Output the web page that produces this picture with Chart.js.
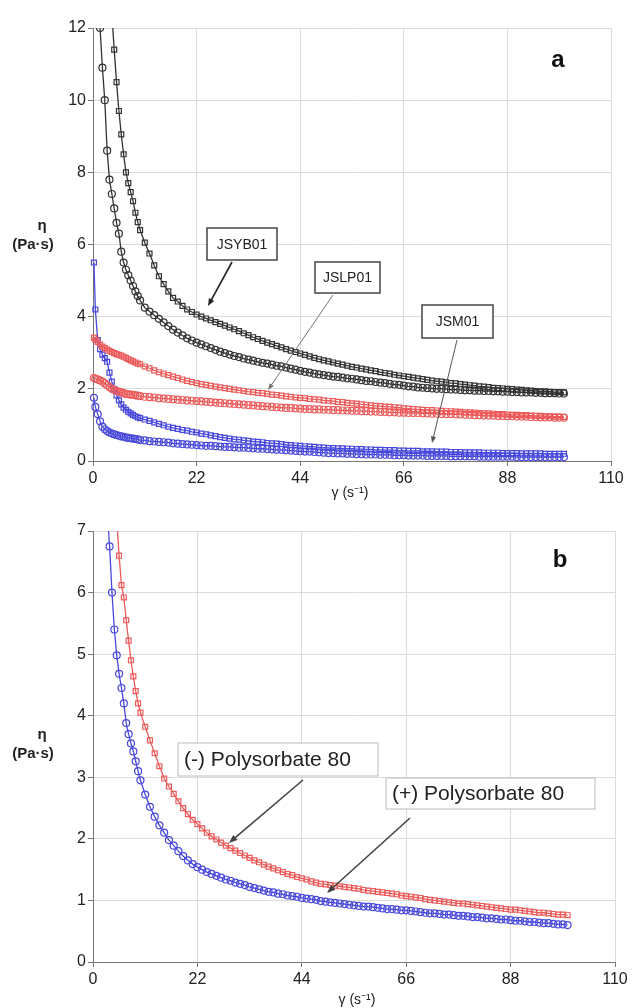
<!DOCTYPE html>
<html>
<head>
<meta charset="utf-8">
<script src="https://cdn.jsdelivr.net/npm/chart.js@4.4.1/dist/chart.umd.min.js"></script>
<style>
  body { margin: 0; background: #fff; }
  canvas { display: block; }
</style>
</head>
<body>
<canvas id="chartA" width="636" height="500"></canvas>
<canvas id="chartB" width="636" height="508"></canvas>
<script>
// shear rate (s-1), shared by every curve
const gamma = [0.2, 0.5, 1, 1.5, 2, 2.5, 3, 3.5, 4, 4.5, 5, 5.5, 6, 6.5, 7, 7.5, 8, 8.5, 9, 9.5, 10,
  11, 12, 13, 14, 15, 16, 17, 18, 19, 20,
  21, 22, 23, 24, 25, 26, 27, 28, 29, 30,
  31, 32, 33, 34, 35, 36, 37, 38, 39, 40,
  41, 42, 43, 44, 45, 46, 47, 48, 49, 50,
  51, 52, 53, 54, 55, 56, 57, 58, 59, 60,
  61, 62, 63, 64, 65, 66, 67, 68, 69, 70,
  71, 72, 73, 74, 75, 76, 77, 78, 79, 80,
  81, 82, 83, 84, 85, 86, 87, 88, 89, 90,
  91, 92, 93, 94, 95, 96, 97, 98, 99, 100];

// panel a - viscosity (Pa.s)
const jsyb01Up = [60, 40, 30, 24, 20, 17.5, 15.5, 13.8, 12.4, 11.4, 10.5, 9.7, 9.05, 8.5, 8.0, 7.7, 7.45, 7.2, 6.88, 6.62, 6.4,
  6.05, 5.75, 5.42, 5.12, 4.9, 4.7, 4.52, 4.42, 4.3, 4.2,
  4.13, 4.06, 4.0, 3.95, 3.9, 3.85, 3.8, 3.75, 3.7, 3.65,
  3.6, 3.54, 3.49, 3.43, 3.38, 3.33, 3.28, 3.24, 3.19, 3.15,
  3.1, 3.06, 3.02, 2.98, 2.94, 2.9, 2.86, 2.82, 2.79, 2.76,
  2.73, 2.7, 2.67, 2.64, 2.61, 2.59, 2.56, 2.54, 2.51, 2.49,
  2.46, 2.44, 2.42, 2.39, 2.37, 2.35, 2.33, 2.31, 2.29, 2.27,
  2.25, 2.23, 2.21, 2.2, 2.18, 2.16, 2.15, 2.13, 2.12, 2.1,
  2.09, 2.07, 2.06, 2.05, 2.03, 2.02, 2.01, 2.0, 1.99, 1.98,
  1.97, 1.96, 1.95, 1.94, 1.93, 1.93, 1.92, 1.91, 1.91, 1.9];
const jsyb01Down = [40, 24, 15, 12, 10.9, 10, 8.6, 7.8, 7.4, 7.0, 6.6, 6.3, 5.8, 5.5, 5.3, 5.15, 5.0, 4.85, 4.7, 4.57, 4.45,
  4.25, 4.14, 4.04, 3.94, 3.84, 3.74, 3.64, 3.56, 3.48, 3.4,
  3.34, 3.28, 3.23, 3.18, 3.13, 3.08, 3.03, 2.99, 2.95, 2.91,
  2.88, 2.84, 2.81, 2.78, 2.75, 2.72, 2.7, 2.67, 2.64, 2.62,
  2.59, 2.56, 2.53, 2.5, 2.47, 2.45, 2.42, 2.4, 2.38, 2.36,
  2.34, 2.33, 2.31, 2.29, 2.28, 2.26, 2.24, 2.22, 2.21, 2.19,
  2.17, 2.16, 2.14, 2.12, 2.11, 2.09, 2.07, 2.06, 2.04, 2.03,
  2.02, 2.01, 2.0, 2.0, 1.99, 1.98, 1.98, 1.97, 1.96, 1.96,
  1.95, 1.95, 1.94, 1.94, 1.93, 1.93, 1.92, 1.92, 1.91, 1.91,
  1.9, 1.9, 1.9, 1.89, 1.89, 1.88, 1.88, 1.88, 1.87, 1.87];
const jslp01Up = [3.42, 3.36, 3.3, 3.23, 3.17, 3.13, 3.09, 3.05, 3.02, 2.99, 2.96, 2.94, 2.92, 2.89, 2.86, 2.82, 2.79, 2.76, 2.73, 2.7, 2.68,
  2.62, 2.57, 2.51, 2.46, 2.42, 2.38, 2.34, 2.3, 2.26, 2.22,
  2.19, 2.16, 2.13, 2.11, 2.08, 2.06, 2.04, 2.02, 2.0, 1.98,
  1.96, 1.94, 1.92, 1.91, 1.89, 1.88, 1.86, 1.84, 1.83, 1.81,
  1.79, 1.78, 1.76, 1.75, 1.74, 1.72, 1.71, 1.7, 1.68, 1.67,
  1.66, 1.64, 1.63, 1.61, 1.6, 1.59, 1.57, 1.56, 1.54, 1.53,
  1.52, 1.51, 1.5, 1.49, 1.48, 1.46, 1.45, 1.44, 1.43, 1.42,
  1.41, 1.41, 1.4, 1.39, 1.38, 1.38, 1.37, 1.36, 1.35, 1.35,
  1.34, 1.33, 1.32, 1.32, 1.31, 1.3, 1.3, 1.29, 1.28, 1.28,
  1.27, 1.27, 1.26, 1.25, 1.25, 1.24, 1.24, 1.23, 1.23, 1.22];
const jslp01Down = [2.3, 2.28, 2.26, 2.23, 2.2, 2.15, 2.1, 2.05, 2.0, 1.97, 1.94, 1.92, 1.9, 1.88, 1.86, 1.85, 1.84, 1.83, 1.82, 1.81, 1.8,
  1.78, 1.77, 1.76, 1.74, 1.73, 1.72, 1.71, 1.7, 1.69, 1.68,
  1.67, 1.66, 1.65, 1.64, 1.63, 1.62, 1.61, 1.6, 1.59, 1.58,
  1.57, 1.56, 1.55, 1.54, 1.53, 1.52, 1.51, 1.5, 1.49, 1.48,
  1.47, 1.47, 1.46, 1.45, 1.44, 1.44, 1.43, 1.43, 1.42, 1.42,
  1.41, 1.41, 1.4, 1.4, 1.39, 1.39, 1.38, 1.38, 1.37, 1.37,
  1.36, 1.36, 1.35, 1.35, 1.34, 1.34, 1.33, 1.33, 1.33, 1.32,
  1.32, 1.31, 1.31, 1.3, 1.3, 1.3, 1.29, 1.29, 1.28, 1.28,
  1.27, 1.27, 1.26, 1.26, 1.26, 1.25, 1.25, 1.24, 1.24, 1.23,
  1.23, 1.23, 1.22, 1.22, 1.21, 1.21, 1.21, 1.2, 1.2, 1.2];
const jsm01Up = [5.5, 4.2, 3.35, 3.1, 2.95, 2.85, 2.75, 2.45, 2.2, 2.0, 1.82, 1.68, 1.57, 1.48, 1.42, 1.36, 1.32, 1.28, 1.24, 1.21, 1.19,
  1.15, 1.11, 1.07, 1.03, 0.99, 0.95, 0.92, 0.89, 0.86, 0.84,
  0.81, 0.79, 0.76, 0.74, 0.71, 0.69, 0.66, 0.64, 0.62, 0.6,
  0.59, 0.57, 0.56, 0.54, 0.53, 0.52, 0.5, 0.49, 0.48, 0.47,
  0.45, 0.44, 0.43, 0.42, 0.41, 0.4, 0.39, 0.38, 0.37, 0.36,
  0.36, 0.35, 0.35, 0.34, 0.34, 0.33, 0.33, 0.32, 0.32, 0.31,
  0.31, 0.3, 0.3, 0.3, 0.29, 0.29, 0.28, 0.28, 0.28, 0.27,
  0.27, 0.27, 0.26, 0.26, 0.26, 0.25, 0.25, 0.25, 0.24, 0.24,
  0.24, 0.24, 0.23, 0.23, 0.23, 0.23, 0.22, 0.22, 0.22, 0.22,
  0.21, 0.21, 0.21, 0.21, 0.21, 0.2, 0.2, 0.2, 0.2, 0.2];
const jsm01Down = [1.75, 1.5, 1.3, 1.1, 0.95, 0.88, 0.83, 0.79, 0.76, 0.74, 0.72, 0.7, 0.68, 0.67, 0.65, 0.64, 0.63, 0.62, 0.61, 0.6, 0.58,
  0.57, 0.55, 0.54, 0.53, 0.52, 0.51, 0.49, 0.48, 0.47, 0.46,
  0.45, 0.44, 0.43, 0.42, 0.42, 0.41, 0.4, 0.39, 0.39, 0.38,
  0.37, 0.37, 0.36, 0.35, 0.34, 0.34, 0.33, 0.32, 0.31, 0.31,
  0.3, 0.29, 0.28, 0.27, 0.26, 0.26, 0.25, 0.24, 0.23, 0.22,
  0.22, 0.21, 0.21, 0.2, 0.2, 0.19, 0.19, 0.18, 0.18, 0.18,
  0.17, 0.17, 0.17, 0.16, 0.16, 0.16, 0.15, 0.15, 0.15, 0.15,
  0.14, 0.14, 0.14, 0.14, 0.14, 0.13, 0.13, 0.13, 0.13, 0.13,
  0.13, 0.12, 0.12, 0.12, 0.12, 0.12, 0.12, 0.12, 0.12, 0.11,
  0.11, 0.11, 0.11, 0.11, 0.11, 0.11, 0.11, 0.11, 0.11, 0.11];

// panel b - viscosity (Pa.s)
const withoutP80 = [40, 30, 22, 17, 14, 12, 10.5, 9.3, 8.4, 7.7, 7.2, 6.6, 6.12, 5.92, 5.55, 5.22, 4.9, 4.64, 4.4, 4.2, 4.05,
  3.82, 3.6, 3.39, 3.18, 2.98, 2.85, 2.73, 2.61, 2.5, 2.4,
  2.31, 2.24, 2.17, 2.1, 2.04, 1.99, 1.94, 1.89, 1.85, 1.81,
  1.77, 1.73, 1.69, 1.65, 1.62, 1.58, 1.55, 1.52, 1.49, 1.46,
  1.43, 1.41, 1.38, 1.36, 1.34, 1.31, 1.29, 1.27, 1.26, 1.25,
  1.24, 1.23, 1.22, 1.21, 1.2, 1.19, 1.17, 1.16, 1.15, 1.14,
  1.13, 1.12, 1.11, 1.1, 1.08, 1.07, 1.06, 1.05, 1.04, 1.02,
  1.01, 1.0, 0.99, 0.98, 0.97, 0.96, 0.95, 0.95, 0.94, 0.93,
  0.92, 0.91, 0.9, 0.89, 0.88, 0.87, 0.86, 0.85, 0.85, 0.84,
  0.83, 0.82, 0.81, 0.8, 0.8, 0.79, 0.78, 0.77, 0.77, 0.76];
const withP80 = [25, 18, 13, 10.5, 9, 8, 7.3, 6.75, 6.0, 5.4, 4.98, 4.68, 4.45, 4.2, 3.88, 3.7, 3.55, 3.42, 3.26, 3.1, 2.95,
  2.72, 2.52, 2.36, 2.22, 2.1, 1.98, 1.89, 1.8, 1.72, 1.65,
  1.59, 1.54, 1.5, 1.46, 1.43, 1.4, 1.37, 1.34, 1.32, 1.29,
  1.27, 1.25, 1.22, 1.2, 1.18, 1.16, 1.14, 1.13, 1.11, 1.1,
  1.08, 1.07, 1.06, 1.04, 1.03, 1.02, 1.01, 0.99, 0.98, 0.97,
  0.96, 0.95, 0.94, 0.93, 0.92, 0.91, 0.9, 0.9, 0.89, 0.88,
  0.87, 0.86, 0.86, 0.85, 0.84, 0.84, 0.83, 0.82, 0.81, 0.8,
  0.79, 0.79, 0.78, 0.77, 0.77, 0.76, 0.75, 0.75, 0.74, 0.73,
  0.73, 0.72, 0.71, 0.71, 0.7, 0.69, 0.69, 0.68, 0.67, 0.67,
  0.66, 0.65, 0.65, 0.64, 0.63, 0.63, 0.62, 0.61, 0.61, 0.6];

const xTicks = [0, 22, 44, 66, 88, 110];
const yTicksA = [0, 2, 4, 6, 8, 10, 12];
const yTicksB = [0, 1, 2, 3, 4, 5, 6, 7];

const FONT = '"Liberation Sans", Arial, sans-serif';
const BLACK = '#333333';
const RED = '#ec5a5a';
const BLUE = '#4848dc';

Chart.defaults.font.family = FONT;

const toPoints = (ys) => gamma.map((g, i) => ({x: g, y: ys[i]}));

const curve = (ys, color, style) => ({
    data: toPoints(ys),
    showLine: true,
    borderColor: color,
    borderWidth: 1.3,
    pointStyle: style,
    pointRadius: 3.5,
    pointBorderWidth: 1.2,
    pointBorderColor: color,
    pointBackgroundColor: 'rgba(255,255,255,0)',
    clip: {left: 6, top: 0, right: 6, bottom: 6}
});

const axes = (yMax, yTicks, xHeight) => ({
    x: {
        type: 'linear', min: 0, max: 110,
        afterBuildTicks: (s) => { s.ticks = xTicks.map(v => ({value: v})); },
        afterFit: (s) => { s.height = xHeight; },
        ticks: {color: '#222', font: {size: 16}, padding: 3, maxRotation: 0},
        grid: {color: '#dcdcdc', tickColor: '#777', tickLength: 5},
        border: {color: '#777', width: 1}
    },
    y: {
        type: 'linear', min: 0, max: yMax,
        afterBuildTicks: (s) => { s.ticks = yTicks.map(v => ({value: v})); },
        afterFit: (s) => { s.width = 93; },
        ticks: {color: '#222', font: {size: 16}, padding: 2},
        grid: {color: '#dcdcdc', tickColor: '#777', tickLength: 5},
        border: {color: '#777', width: 1}
    }
});

function labelBox(ctx, x, y, w, h, text, font, border, lw, align) {
    ctx.save();
    ctx.fillStyle = '#fff';
    ctx.fillRect(x, y, w, h);
    ctx.strokeStyle = border;
    ctx.lineWidth = lw;
    ctx.strokeRect(x, y, w, h);
    ctx.fillStyle = '#222';
    ctx.font = font;
    ctx.textBaseline = 'middle';
    if (align === 'left') {
        ctx.textAlign = 'left';
        ctx.fillText(text, x + 6, y + h / 2 + 1);
    } else {
        ctx.textAlign = 'center';
        ctx.fillText(text, x + w / 2, y + h / 2 + 1);
    }
    ctx.restore();
}

function arrow(ctx, x1, y1, x2, y2, color, lw, head) {
    const a = Math.atan2(y2 - y1, x2 - x1);
    ctx.save();
    ctx.strokeStyle = color;
    ctx.fillStyle = color;
    ctx.lineWidth = lw;
    ctx.beginPath();
    ctx.moveTo(x1, y1);
    ctx.lineTo(x2 - head * 0.7 * Math.cos(a), y2 - head * 0.7 * Math.sin(a));
    ctx.stroke();
    ctx.beginPath();
    ctx.moveTo(x2, y2);
    ctx.lineTo(x2 - head * Math.cos(a - 0.38), y2 - head * Math.sin(a - 0.38));
    ctx.lineTo(x2 - head * Math.cos(a + 0.38), y2 - head * Math.sin(a + 0.38));
    ctx.closePath();
    ctx.fill();
    ctx.restore();
}

function axisTitles(ctx, etaY, xTitleX, xTitleY) {
    ctx.save();
    ctx.fillStyle = '#222';
    ctx.textAlign = 'center';
    ctx.textBaseline = 'middle';
    ctx.font = 'bold 15px ' + FONT;
    ctx.fillText('η', 42, etaY);
    ctx.fillText('(Pa·s)', 33, etaY + 19);
    ctx.font = '14px ' + FONT;
    ctx.fillText('γ (s⁻¹)', xTitleX, xTitleY);
    ctx.restore();
}

function panelLetter(ctx, letter, x, y) {
    ctx.save();
    ctx.fillStyle = '#111';
    ctx.font = 'bold 24px ' + FONT;
    ctx.textAlign = 'center';
    ctx.textBaseline = 'middle';
    ctx.fillText(letter, x, y);
    ctx.restore();
}

const notesA = {
    id: 'notesA',
    afterDraw: (chart) => {
        const ctx = chart.ctx;
        panelLetter(ctx, 'a', 558, 60);
        axisTitles(ctx, 226, 350, 493);
        labelBox(ctx, 207, 228, 70, 32, 'JSYB01', '14px ' + FONT, '#444', 1.5);
        labelBox(ctx, 315, 262, 65, 31, 'JSLP01', '14px ' + FONT, '#444', 1.5);
        labelBox(ctx, 422, 305, 71, 33, 'JSM01', '14px ' + FONT, '#444', 1.5);
        arrow(ctx, 232, 262, 208, 306, '#222', 1.6, 8);
        arrow(ctx, 333, 295, 268, 390, '#777', 1, 7);
        arrow(ctx, 457, 340, 432, 443, '#555', 1, 7);
    }
};

const notesB = {
    id: 'notesB',
    afterDraw: (chart) => {
        const ctx = chart.ctx;
        panelLetter(ctx, 'b', 560, 60);
        axisTitles(ctx, 235, 357, 500);
        labelBox(ctx, 178, 243, 200, 33, '(-) Polysorbate 80', '21px ' + FONT, '#bbb', 1, 'left');
        labelBox(ctx, 386, 278, 209, 31, '(+) Polysorbate 80', '21px ' + FONT, '#bbb', 1, 'left');
        arrow(ctx, 303, 280, 229, 343, '#444', 1.6, 9);
        arrow(ctx, 410, 318, 327, 393, '#444', 1.6, 9);
    }
};

new Chart(document.getElementById('chartA').getContext('2d'), {
    type: 'scatter',
    data: {
        datasets: [
            curve(jsyb01Up, BLACK, 'rect'),
            curve(jsyb01Down, BLACK, 'circle'),
            curve(jslp01Up, RED, 'rect'),
            curve(jslp01Down, RED, 'circle'),
            curve(jsm01Up, BLUE, 'rect'),
            curve(jsm01Down, BLUE, 'circle')
        ]
    },
    options: {
        responsive: false,
        animation: false,
        layout: {padding: {left: 0, right: 25, top: 28, bottom: 0}},
        plugins: {legend: {display: false}, tooltip: {enabled: false}},
        scales: axes(12, yTicksA, 39)
    },
    plugins: [notesA]
});

new Chart(document.getElementById('chartB').getContext('2d'), {
    type: 'scatter',
    data: {
        datasets: [
            curve(withP80, BLUE, 'circle'),
            curve(withoutP80, RED, 'rect')
        ]
    },
    options: {
        responsive: false,
        animation: false,
        layout: {padding: {left: 0, right: 21, top: 31, bottom: 0}},
        plugins: {legend: {display: false}, tooltip: {enabled: false}},
        scales: axes(7, yTicksB, 46)
    },
    plugins: [notesB]
});
</script>
</body>
</html>
